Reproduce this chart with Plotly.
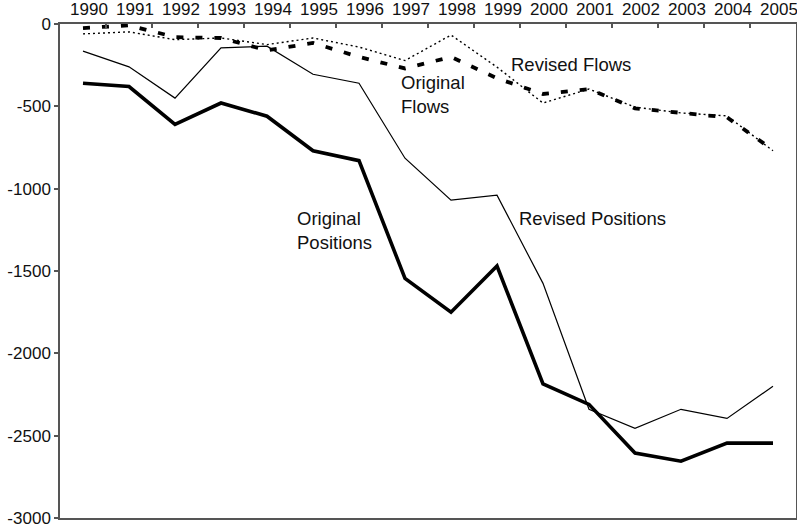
import plotly.graph_objects as go

years = [str(y) for y in range(1990, 2006)]
original_positions = [-360, -380, -610, -480, -560, -770, -830, -1545, -1750, -1470,
                      -2185, -2310, -2605, -2655, -2545, -2545]
revised_positions = [-165, -260, -450, -145, -135, -305, -360, -815, -1070, -1040,
                     -1575, -2340, -2455, -2340, -2395, -2200]
original_flows = [-25, -8, -80, -85, -160, -115, -200, -270, -200, -330,
                  -425, -395, -512, -540, -567, -765]
revised_flows = [-60, -48, -95, -85, -125, -85, -140, -222, -67, -262,
                 -480, -395, -505, -540, -558, -770]
y_ticks = [0, -500, -1000, -1500, -2000, -2500, -3000]
y_tick_labels = ["0", "-500", "-1000", "-1500", "-2000", "-2500", "-3000"]

FONT = "Liberation Sans, Arial, sans-serif"
TXT = "#111111"

fig = go.Figure()
fig.add_trace(go.Scatter(x=years, y=revised_flows, mode="lines",
                         line=dict(color="black", width=1.4, dash="2px,3px"),
                         name="Revised Flows"))
fig.add_trace(go.Scatter(x=years, y=original_flows, mode="lines",
                         line=dict(color="black", width=3.8, dash="7px,12px"),
                         name="Original Flows"))
fig.add_trace(go.Scatter(x=years, y=revised_positions, mode="lines",
                         line=dict(color="black", width=1.2),
                         name="Revised Positions"))
fig.add_trace(go.Scatter(x=years, y=original_positions, mode="lines",
                         line=dict(color="black", width=3.6),
                         name="Original Positions"))

def px(x):
    return (x - 60) / 736

def py(y):
    return (518 - y) / 494

ann = [
    ("Revised Flows", 510, 65),
    ("Original<br>Flows", 400, 95),
    ("Original<br>Positions", 296, 230),
    ("Revised Positions", 518, 218),
]
for text, x, y in ann:
    fig.add_annotation(text=text, x=px(x), y=py(y), xref="paper", yref="paper",
                       xanchor="left", yanchor="middle", align="left",
                       showarrow=False, borderpad=0,
                       font=dict(size=18.5, color=TXT, family=FONT))

fig.update_layout(
    width=797, height=532,
    margin=dict(l=60, r=1, t=24, b=14, autoexpand=False),
    paper_bgcolor="white", plot_bgcolor="white",
    showlegend=False,
    font=dict(family=FONT, size=17, color=TXT),
)
fig.update_xaxes(type="category", side="top", tickson="boundaries",
                 ticks="inside", ticklen=4, tickcolor="#555", tickwidth=1.5,
                 showline=True, linecolor="#555", linewidth=1.5, mirror=True,
                 showgrid=False, zeroline=False, ticklabelshift=6,
                 tickangle=0, automargin=False,
                 tickfont=dict(size=17, family=FONT, color=TXT),
                 range=[-0.5, 15.5])
fig.update_yaxes(range=[-3000, 0], tickvals=y_ticks, ticktext=y_tick_labels,
                 ticks="outside", ticklen=4,
                 tickcolor="#555", tickwidth=1.5,
                 showline=True, linecolor="#555", linewidth=1.5, mirror=True,
                 showgrid=False, zeroline=False, automargin=False,
                 tickfont=dict(size=17, family=FONT, color=TXT))

fig.write_html("out.html", config={"displayModeBar": False},
               post_script="document.body.style.margin='0';document.body.style.padding='0';")
